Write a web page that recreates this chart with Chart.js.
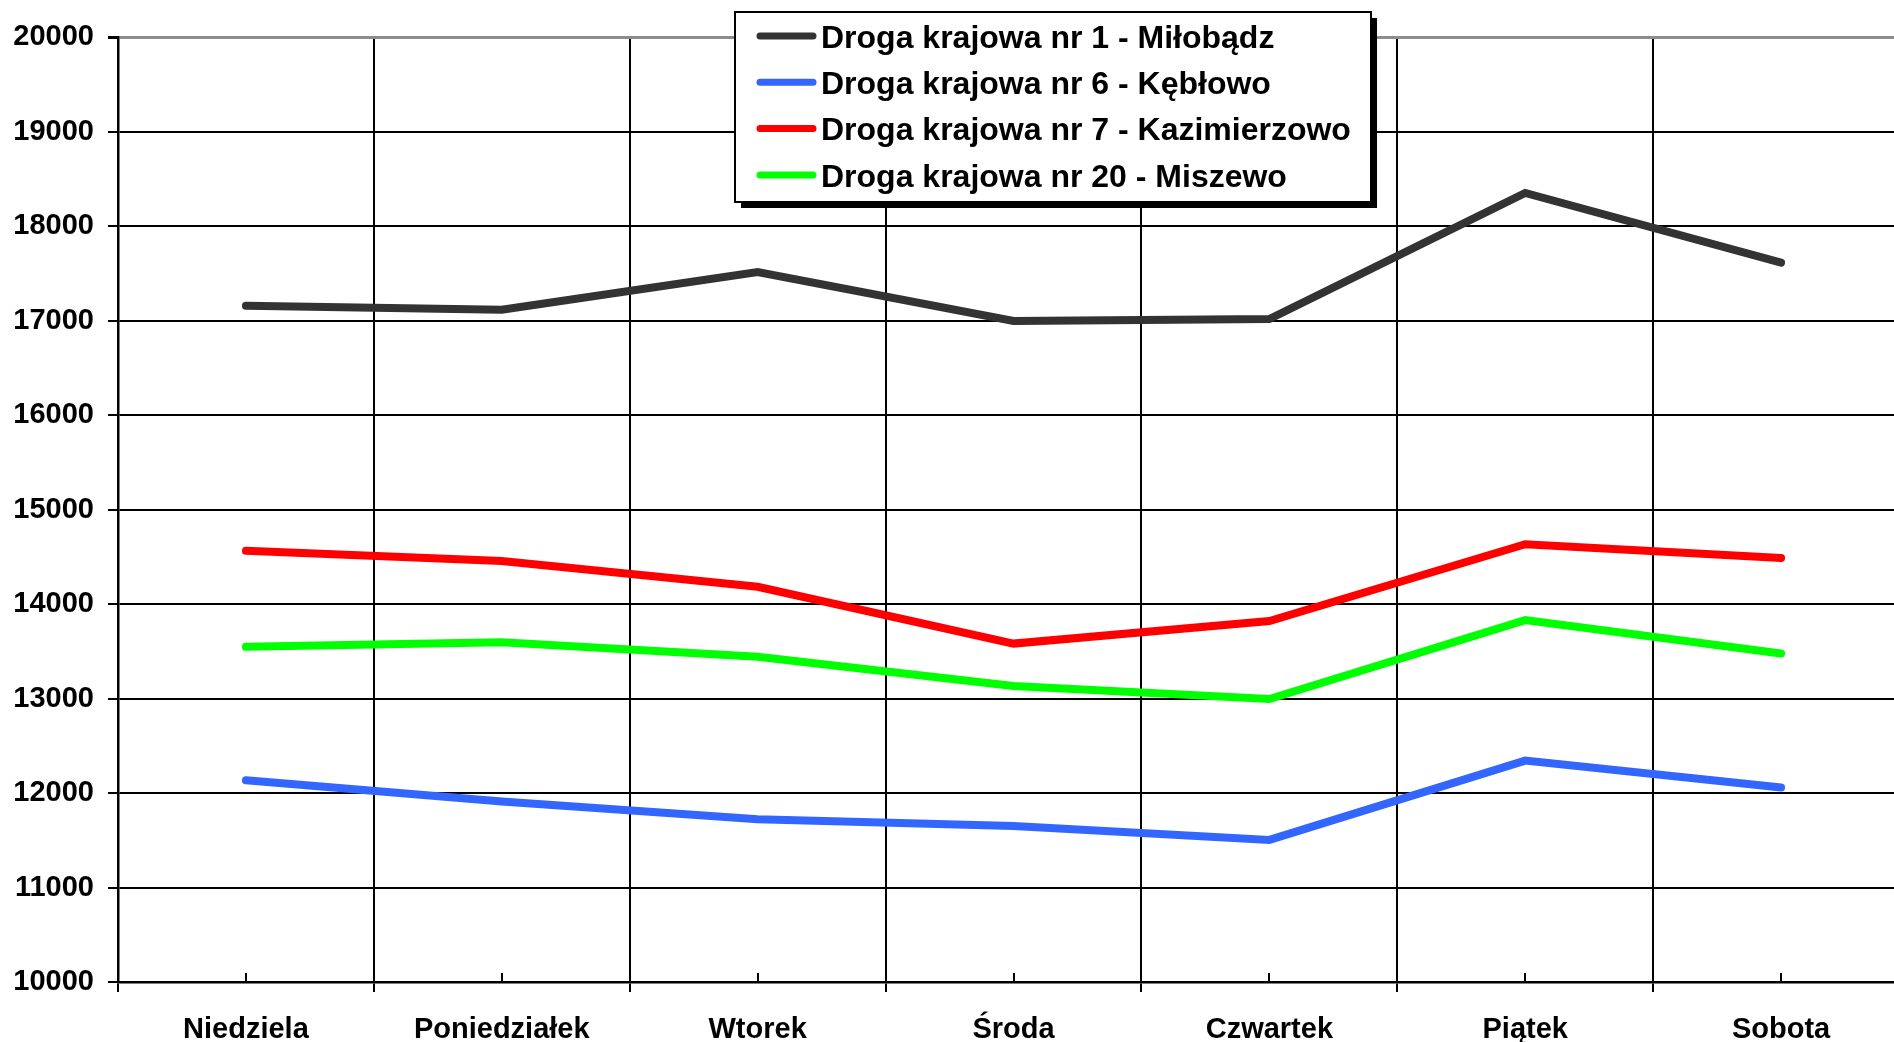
<!DOCTYPE html>
<html>
<head>
<meta charset="utf-8">
<script src="https://cdn.jsdelivr.net/npm/chart.js@4"></script>
<style>
  html, body { margin: 0; padding: 0; background: #fff; overflow: hidden; }
  #wrap { width: 1912px; height: 1042px; }
</style>
</head>
<body>
<div id="wrap"><canvas id="trafficChart" width="1912" height="1042"></canvas></div>
<script>
// dni tygodnia
const days = ['Niedziela', 'Poniedziałek', 'Wtorek', 'Środa', 'Czwartek', 'Piątek', 'Sobota'];

// natężenie ruchu na punktach pomiarowych
const dk1Milobadz = [17155, 17113, 17512, 16995, 17015, 18350, 17612];
const dk6Keblowo = [12135, 11911, 11722, 11650, 11504, 12343, 12058];
const dk7Kazimierzowo = [14563, 14454, 14182, 13581, 13820, 14632, 14486];
const dk20Miszewo = [13547, 13595, 13442, 13133, 12995, 13830, 13476];

const seriesNames = [
    'Droga krajowa nr 1 - Miłobądz',
    'Droga krajowa nr 6 - Kębłowo',
    'Droga krajowa nr 7 - Kazimierzowo',
    'Droga krajowa nr 20 - Miszewo'
];
const seriesColors = ['#333333', '#3366ff', '#ff0000', '#00ff00'];

const yMin = 10000;
const yMax = 20000;
const yStep = 1000;

const FONT = '"Liberation Sans", Arial, sans-serif';

// small ticks in the middle of each category, pointing up from the axis
const centerTicks = {
    id: 'centerTicks',
    afterDraw(chart) {
        const ctx = chart.ctx;
        const x = chart.scales.x;
        const bottom = chart.chartArea.bottom;
        ctx.save();
        ctx.strokeStyle = '#000';
        ctx.lineWidth = 2;
        days.forEach((d, i) => {
            const px = Math.round(x.getPixelForValue(i));
            ctx.beginPath();
            ctx.moveTo(px, bottom);
            ctx.lineTo(px, bottom - 9);
            ctx.stroke();
        });
        ctx.restore();
    }
};

// boxed legend with a shadow, like the original
const boxLegend = {
    id: 'boxLegend',
    afterDraw(chart) {
        const ctx = chart.ctx;
        const left = 735, top = 12, w = 636, h = 190;
        ctx.save();
        ctx.fillStyle = '#000';
        ctx.fillRect(left + 6, top + 6, w, h);
        ctx.fillStyle = '#fff';
        ctx.fillRect(left, top, w, h);
        ctx.strokeStyle = '#000';
        ctx.lineWidth = 2;
        ctx.strokeRect(left, top, w, h);

        ctx.font = 'bold 32px ' + FONT;
        ctx.textBaseline = 'middle';
        ctx.lineCap = 'round';
        chart.data.datasets.forEach((ds, i) => {
            const cy = top + 24 + i * 46.3;
            ctx.strokeStyle = ds.borderColor;
            ctx.lineWidth = 7;
            ctx.beginPath();
            ctx.moveTo(760, cy);
            ctx.lineTo(813, cy);
            ctx.stroke();
            ctx.fillStyle = '#000';
            ctx.fillText(ds.label, 821, cy + 3);
        });
        ctx.restore();
    }
};

const allSeries = [dk1Milobadz, dk6Keblowo, dk7Kazimierzowo, dk20Miszewo];

const ctx = document.getElementById('trafficChart').getContext('2d');
const chart = new Chart(ctx, {
    type: 'line',
    data: {
        labels: days,
        datasets: allSeries.map((vals, i) => ({
            label: seriesNames[i],
            data: vals,
            borderColor: seriesColors[i],
            backgroundColor: seriesColors[i],
            borderWidth: 8,
            borderCapStyle: 'round',
            borderJoinStyle: 'miter',
            pointRadius: 0,
            tension: 0,
            fill: false
        }))
    },
    options: {
        responsive: false,
        animation: false,
        layout: { padding: { left: 0, top: 37, right: 3, bottom: 0 } },
        plugins: {
            legend: { display: false },
            tooltip: { enabled: false }
        },
        scales: {
            x: {
                offset: true,
                grid: {
                    offset: true,
                    color: '#000',
                    lineWidth: 2,
                    tickLength: 10
                },
                border: { color: '#000', width: 2.5 },
                ticks: {
                    color: '#000',
                    font: { family: FONT, size: 29, weight: 'bold' },
                    padding: 21,
                    maxRotation: 0,
                    autoSkip: false
                },
                afterFit(scale) { scale.height = 60; }
            },
            y: {
                min: yMin,
                max: yMax,
                grid: {
                    color: (c) => c.tick && c.tick.value === yMax ? '#8c8c8c' : '#000',
                    lineWidth: (c) => c.tick && c.tick.value === yMax ? 3 : 2,
                    tickColor: '#000',
                    tickLength: 10
                },
                border: { color: '#000', width: 2.5 },
                ticks: {
                    stepSize: yStep,
                    color: '#000',
                    font: { family: FONT, size: 29, weight: 'bold' },
                    padding: 14,
                    callback: (v) => String(v)
                },
                afterFit(scale) { scale.width = 118; }
            }
        }
    },
    plugins: [centerTicks, boxLegend]
});
</script>
</body>
</html>
